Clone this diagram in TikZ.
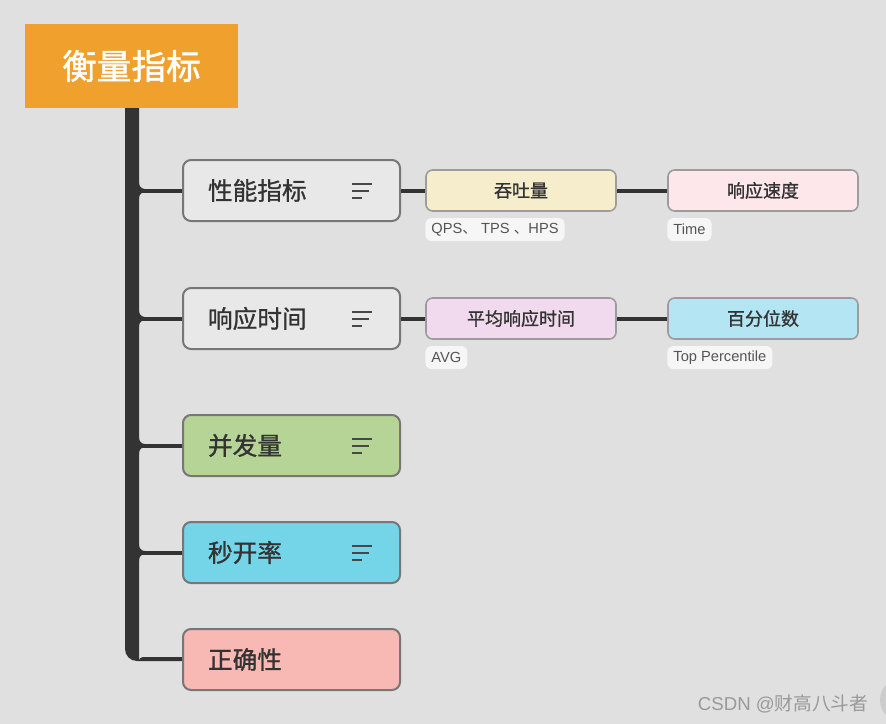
\documentclass[tikz,border=0pt]{standalone}
\usepackage{fontspec}
\setmainfont{Noto Sans CJK SC}
\newfontfamily\cjkmid[FakeBold=1.0]{Noto Sans CJK SC}
\newfontfamily\cjkroot[FakeBold=1.4]{Noto Sans CJK SC}
\newfontfamily\notefont{Liberation Sans}
\usetikzlibrary{positioning,calc}

\definecolor{bgc}{HTML}{E0E0E0}
\definecolor{rootc}{HTML}{F0A02C}
\definecolor{trunkc}{HTML}{333333}
\definecolor{edgec}{HTML}{777777}
\definecolor{subedge}{HTML}{9C9C9C}
\definecolor{textc}{HTML}{333333}
\definecolor{notec}{HTML}{555555}
\definecolor{grayfill}{HTML}{E8E8E8}
\definecolor{greenfill}{HTML}{B6D496}
\definecolor{cyanfill}{HTML}{74D5E8}
\definecolor{pinkfill}{HTML}{F8B8B3}
\definecolor{creamfill}{HTML}{F5EDCB}
\definecolor{rosefill}{HTML}{FDE7EA}
\definecolor{lilacfill}{HTML}{F2DAEE}
\definecolor{skyfill}{HTML}{B3E5F2}
\definecolor{notefill}{HTML}{F6F6F6}

\begin{document}
\begin{tikzpicture}[
    x=0.75pt, y=-0.75pt,
    root/.style={rectangle, fill=rootc, text=white, minimum width=159.75pt, minimum height=63pt,
        font=\cjkroot\fontsize{26}{30}\selectfont},
    topic/.style={rectangle, draw=edgec, line width=1.5pt, rounded corners=6pt,
        minimum height=45.75pt, text width=125.25pt, inner xsep=18.75pt, align=left,
        text=textc, font=\cjkmid\fontsize{18.5}{22}\selectfont},
    subtopic/.style={rectangle, draw=subedge, line width=1.2pt, rounded corners=5pt,
        minimum width=142.5pt, minimum height=30.75pt, text=textc,
        font=\cjkmid\fontsize{13.5}{16}\selectfont},
    note/.style={rectangle, fill=notefill, rounded corners=4.5pt, minimum height=17.25pt,
        inner xsep=4.5pt, inner ysep=0pt, text=notec, font=\notefont\fontsize{11}{13}\selectfont},
    branch/.style={draw=trunkc, line width=3pt},
    menu/.style={draw=textc!90, line width=1.5pt}
]

% Background
\fill[bgc] (0,0) rectangle (886,724);
\useasboundingbox (0,0) rectangle (886,724);

% Trunk
\fill[trunkc] (125,100) -- (125,649) arc[start angle=180, end angle=90, radius=12]
    -- (190,661) -- (190,657) -- (143,657) arc[start angle=270, end angle=180, radius=4]
    -- (139,100) -- cycle;

% Root
\node[root] (root) at (131.5,66) {衡量指标};

% Branches from the trunk
\foreach \n/\y in {perf/190.5, resp/318.5, conc/445.5, open/552.5} {
    \coordinate (j\n) at (132,\y);
    \draw[branch] (j\n) -- (291.5,\y);
    \fill[trunkc] (139,\y-8) -- (139,\y-1.5) -- (145,\y-1.5) arc[start angle=90, end angle=180, radius=6];
    \fill[trunkc] (139,\y+8) -- (139,\y+1.5) -- (145,\y+1.5) arc[start angle=270, end angle=180, radius=6];
}

% Level 1
\node[topic, fill=grayfill] (perf) at (291.5,190.5) {性能指标};
\node[topic, fill=grayfill] (resp) at (291.5,318.5) {响应时间};
\node[topic, fill=greenfill] (conc) at (291.5,445.5) {并发量};
\node[topic, fill=cyanfill] (open) at (291.5,552.5) {秒开率};
\node[topic, fill=pinkfill] (corr) at (291.5,659.5) {正确性};

% Menu icons
\foreach \n in {perf, resp, conc, open} {
    \draw[menu] ($(\n.east)+(-49,-7)$) -- +(20,0);
    \draw[menu] ($(\n.east)+(-49,0)$) -- +(17,0);
    \draw[menu] ($(\n.east)+(-49,7)$) -- +(10,0);
}

% Level 2
\node[subtopic, fill=creamfill] (thru) at (521,190.5) {吞吐量};
\node[subtopic, fill=rosefill] (speed) at (763,190.5) {响应速度};
\node[subtopic, fill=lilacfill] (avg) at (521,318.5) {平均响应时间};
\node[subtopic, fill=skyfill] (pct) at (763,318.5) {百分位数};

\draw[branch] (perf.east) -- (thru.west);
\draw[branch] (thru.east) -- (speed.west);
\draw[branch] (resp.east) -- (avg.west);
\draw[branch] (avg.east) -- (pct.west);

% Notes
\node[note, anchor=north west] (thrunote) at ($(thru.south west)+(0,6)$) {QPS{\rmfamily 、} TPS {\rmfamily 、}HPS};
\node[note, anchor=north west] (speednote) at ($(speed.south west)+(0,6)$) {Time};
\node[note, anchor=north west] (avgnote) at ($(avg.south west)+(0,6)$) {AVG};
\node[note, anchor=north west] (pctnote) at ($(pct.south west)+(0,6)$) {Top Percentile};

% Watermark
\fill[gray!40] (902,700) circle (22);
\node[anchor=east, text=gray!80, font=\fontsize{14}{17}\selectfont] (mark) at (873,704) {{\notefont CSDN @}财高八斗者};

\end{tikzpicture}
\end{document}
